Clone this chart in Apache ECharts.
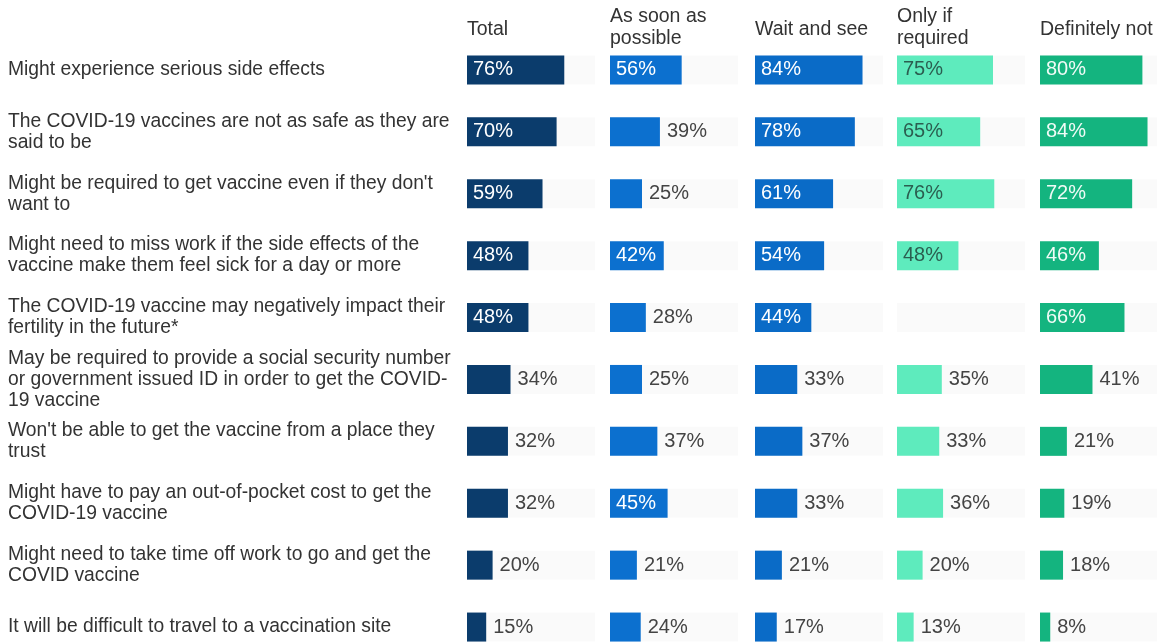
<!DOCTYPE html>
<html>
<head>
<meta charset="utf-8">
<script src="https://cdn.jsdelivr.net/npm/echarts@6/dist/echarts.min.js"></script>
<style>
  html, body { margin: 0; padding: 0; background: #fff; }
  #chart { width: 1157px; height: 643px; }
</style>
</head>
<body>
<div id="chart"></div>
<script>
// row labels (top to bottom)
const reasons = [
  'Might experience serious side effects',
  'The COVID-19 vaccines are not as safe as they are\nsaid to be',
  'Might be required to get vaccine even if they don\'t\nwant to',
  'Might need to miss work if the side effects of the\nvaccine make them feel sick for a day or more',
  'The COVID-19 vaccine may negatively impact their\nfertility in the future*',
  'May be required to provide a social security number\nor government issued ID in order to get the COVID-\n19 vaccine',
  'Won\'t be able to get the vaccine from a place they\ntrust',
  'Might have to pay an out-of-pocket cost to get the\nCOVID-19 vaccine',
  'Might need to take time off work to go and get the\nCOVID vaccine',
  'It will be difficult to travel to a vaccination site'
];

const groups = ['Total', 'As soon as\npossible', 'Wait and see', 'Only if\nrequired', 'Definitely not'];

const total = [76, 70, 59, 48, 48, 34, 32, 32, 20, 15];
const asSoon = [56, 39, 25, 42, 28, 25, 37, 45, 21, 24];
const waitSee = [84, 78, 61, 54, 44, 33, 37, 33, 21, 17];
const onlyIf = [75, 65, 76, 48, null, 35, 33, 36, 20, 13];
const defNot = [80, 84, 72, 46, 66, 41, 21, 19, 18, 8];

const values = [total, asSoon, waitSee, onlyIf, defNot];
const colors = ['#0b3c6c', '#0c70cf', '#0a6bc7', '#5eebbd', '#14b47f'];
const insideText = ['#ffffff', '#ffffff', '#ffffff', '#2b5e50', '#f0fbf6'];

const lefts = [467, 610, 755, 897, 1040];
const panelW = 128;
const font = '"Liberation Sans", Arial, sans-serif';

let myChart = echarts.init(document.getElementById('chart'));

const grids = [], xAxes = [], yAxes = [], series = [], titles = [];
for (let i = 0; i < groups.length; i++) {
  grids.push({ left: lefts[i], top: 39, width: panelW, height: 619, outerBoundsMode: 'none' });
  xAxes.push({
    type: 'value', gridIndex: i, min: 0, max: 100,
    show: false
  });
  yAxes.push({
    type: 'category', gridIndex: i, data: reasons, inverse: true,
    axisLine: { show: false },
    axisTick: { show: false },
    axisLabel: i === 0 ? {
      show: true,
      align: 'left',
      margin: lefts[0] - 8,
      fontFamily: font,
      fontSize: 19.3,
      lineHeight: 21,
      color: '#333'
    } : { show: false }
  });
  const isTwoLine = groups[i].indexOf('\n') >= 0;
  titles.push({
    text: groups[i],
    left: lefts[i],
    top: isTwoLine ? 6 : 19,
    padding: 0,
    textStyle: {
      fontFamily: font,
      fontSize: 19.5,
      fontWeight: 'normal',
      lineHeight: 22,
      color: '#333'
    }
  });
  series.push({
    type: 'bar',
    xAxisIndex: i,
    yAxisIndex: i,
    barWidth: 29,
    showBackground: true,
    backgroundStyle: { color: 'rgba(0,0,0,0.02)' },
    itemStyle: { color: colors[i] },
    data: values[i].map(function (v) {
      if (v === null) return '-';
      const inside = v >= 42;
      return {
        value: v,
        label: {
          show: true,
          position: inside ? 'insideLeft' : 'right',
          distance: inside ? 6 : 7,
          color: inside ? insideText[i] : '#444',
          fontFamily: font,
          fontSize: 20,
          formatter: '{c}%'
        }
      };
    })
  });
}

myChart.setOption({
  backgroundColor: '#fff',
  animation: false,
  title: titles,
  grid: grids,
  xAxis: xAxes,
  yAxis: yAxes,
  series: series
});
</script>
</body>
</html>
